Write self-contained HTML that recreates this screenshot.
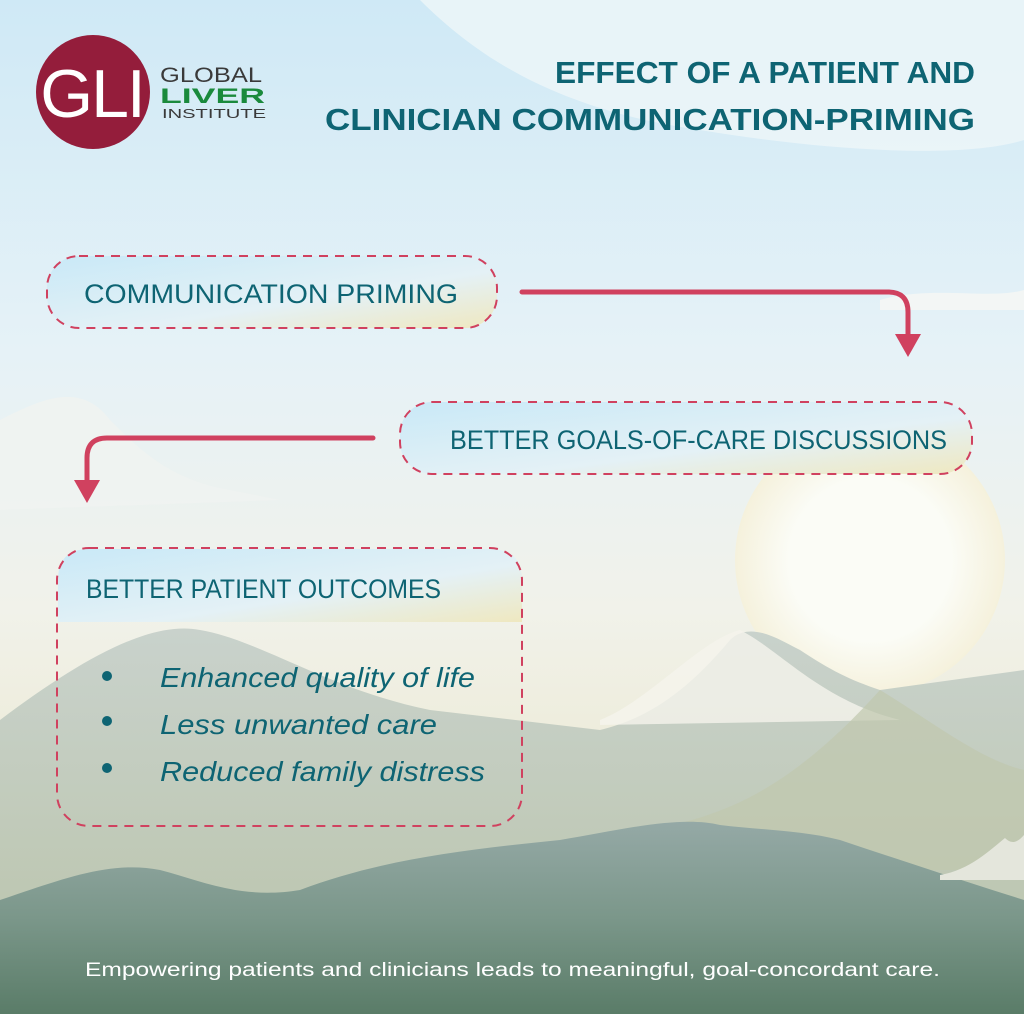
<!DOCTYPE html>
<html><head><meta charset="utf-8"><style>
html,body{margin:0;padding:0;width:1024px;height:1014px;overflow:hidden}
svg{display:block}
</style></head><body>
<svg width="1024" height="1014" viewBox="0 0 1024 1014" xmlns="http://www.w3.org/2000/svg">
<defs>
<linearGradient id="sky" x1="0" y1="0" x2="0" y2="1">
<stop offset="0" stop-color="#cfe9f6"/><stop offset="0.35" stop-color="#e6f2f7"/><stop offset="0.6" stop-color="#f1f2ea"/><stop offset="0.8" stop-color="#ece9d4"/><stop offset="1" stop-color="#dcdcc0"/></linearGradient>
<linearGradient id="front" x1="0" y1="0" x2="0" y2="1">
<stop offset="0" stop-color="#95a9a6"/><stop offset="0.5" stop-color="#7b978a"/><stop offset="1" stop-color="#5a7c68"/></linearGradient>
<linearGradient id="mid" x1="0" y1="0" x2="0" y2="1">
<stop offset="0" stop-color="#c9d2cc"/><stop offset="1" stop-color="#b9c3a8"/></linearGradient>
<linearGradient id="box" x1="0" y1="0" x2="1" y2="1">
<stop offset="0" stop-color="#c9e9f7"/><stop offset="0.6" stop-color="#e4f1f6"/><stop offset="1" stop-color="#efe8c0"/></linearGradient>
<radialGradient id="sun" cx="0.5" cy="0.5" r="0.5"><stop offset="0.6" stop-color="#fbfcf6"/><stop offset="1" stop-color="#f5f1dc"/></radialGradient>
</defs>
<rect width="1024" height="1014" fill="url(#sky)"/>
<path d="M420 0 C480 60 560 110 700 130 C820 150 960 160 1024 140 L1024 0 Z" fill="#eef6f9" opacity="0.8"/>
<circle cx="870" cy="560" r="135" fill="url(#sun)"/>
<path d="M880 300 C930 285 990 300 1024 290 L1024 310 L880 310 Z" fill="#f3f6f5"/>
<path d="M0 420 C40 400 80 380 110 420 C140 450 170 480 230 490 L280 500 L0 510 Z" fill="#f0f3f1" opacity="0.9"/>
<path d="M0 720 C80 660 150 620 200 630 C260 640 330 690 430 710 L600 730 C640 720 680 700 730 640 C750 620 780 640 800 650 C830 670 850 680 880 690 L1024 670 L1024 1014 L0 1014 Z" fill="url(#mid)"/>
<path d="M600 720 C650 700 700 640 740 630 C780 650 820 700 900 720 L600 725 Z" fill="#f5f4ec" opacity="0.8"/>
<path d="M640 830 C720 820 790 790 880 690 C930 720 980 760 1024 770 L1024 870 L640 870 Z" fill="#c0c8ae" opacity="0.7"/>
<path d="M0 900 C60 880 110 860 160 870 C200 880 240 900 300 890 C380 860 460 850 560 840 C620 830 680 815 720 825 C760 830 800 830 840 840 C900 860 960 880 1024 900 L1024 1014 L0 1014 Z" fill="url(#front)"/>
<path d="M940 875 C970 870 990 850 1005 838 C1012 845 1018 842 1024 835 L1024 880 L940 880 Z" fill="#e4e6dc"/>
<circle cx="93" cy="92" r="57" fill="#941d3b"/>
<text x="92" y="117" text-anchor="middle" font-family="Liberation Sans, sans-serif" font-size="68" fill="#fff" font-weight="300" letter-spacing="-2">GLI</text>
<text x="160" y="82" font-family="Liberation Sans, sans-serif" font-size="21" fill="#3a3a3a" textLength="102" lengthAdjust="spacingAndGlyphs">GLOBAL</text>
<text x="160" y="103" font-family="Liberation Sans, sans-serif" font-size="21" fill="#1a8a3c" font-weight="bold" textLength="105" lengthAdjust="spacingAndGlyphs">LIVER</text>
<text x="162" y="118" font-family="Liberation Sans, sans-serif" font-size="13" fill="#3a3a3a" textLength="104" lengthAdjust="spacingAndGlyphs">INSTITUTE</text>
<text x="555" y="83" font-family="Liberation Sans, sans-serif" font-size="31" font-weight="bold" fill="#0e6473" textLength="420" lengthAdjust="spacingAndGlyphs">EFFECT OF A PATIENT AND</text>
<text x="325" y="130" font-family="Liberation Sans, sans-serif" font-size="31" font-weight="bold" fill="#0e6473" textLength="650" lengthAdjust="spacingAndGlyphs">CLINICIAN COMMUNICATION-PRIMING</text>
<rect x="47" y="256" width="450" height="72" rx="32" fill="url(#box)" stroke="#d0415f" stroke-width="2" stroke-dasharray="9 7"/>
<text x="84" y="303" font-family="Liberation Sans, sans-serif" font-size="27" fill="#0e6473" textLength="374" lengthAdjust="spacingAndGlyphs">COMMUNICATION PRIMING</text>
<rect x="400" y="402" width="572" height="72" rx="32" fill="url(#box)" stroke="#d0415f" stroke-width="2" stroke-dasharray="9 7"/>
<text x="450" y="449" font-family="Liberation Sans, sans-serif" font-size="27" fill="#0e6473" textLength="497" lengthAdjust="spacingAndGlyphs">BETTER GOALS-OF-CARE DISCUSSIONS</text>
<path d="M89 549 L490 549 Q522 549 522 580 L522 622 L58 622 L58 580 Q58 549 89 549 Z" fill="url(#box)"/>
<rect x="57" y="548" width="465" height="278" rx="32" fill="none" stroke="#d0415f" stroke-width="2" stroke-dasharray="9 7"/>
<text x="86" y="598" font-family="Liberation Sans, sans-serif" font-size="27" fill="#0e6473" textLength="355" lengthAdjust="spacingAndGlyphs">BETTER PATIENT OUTCOMES</text>
<g font-family="Liberation Sans, sans-serif" font-size="28" font-style="italic" fill="#0e6473">
<circle cx="107" cy="676" r="5" fill="#0e6473"/><text x="160" y="687" textLength="315" lengthAdjust="spacingAndGlyphs">Enhanced quality of life</text>
<circle cx="107" cy="721" r="5" fill="#0e6473"/><text x="160" y="734" textLength="277" lengthAdjust="spacingAndGlyphs">Less unwanted care</text>
<circle cx="107" cy="768" r="5" fill="#0e6473"/><text x="160" y="781" textLength="325" lengthAdjust="spacingAndGlyphs">Reduced family distress</text>
</g>
<path d="M522 292 L888 292 Q908 292 908 312 L908 338" fill="none" stroke="#d0415f" stroke-width="5" stroke-linecap="round"/>
<polygon points="895,334 921,334 908,357" fill="#d0415f"/>
<path d="M373 438 L107 438 Q87 438 87 458 L87 482" fill="none" stroke="#d0415f" stroke-width="5" stroke-linecap="round"/>
<polygon points="74,480 100,480 87,503" fill="#d0415f"/>
<text x="85" y="976" font-family="Liberation Sans, sans-serif" font-size="19" fill="#ffffff" textLength="855" lengthAdjust="spacingAndGlyphs">Empowering patients and clinicians leads to meaningful, goal-concordant care.</text>
</svg>
</body></html>
